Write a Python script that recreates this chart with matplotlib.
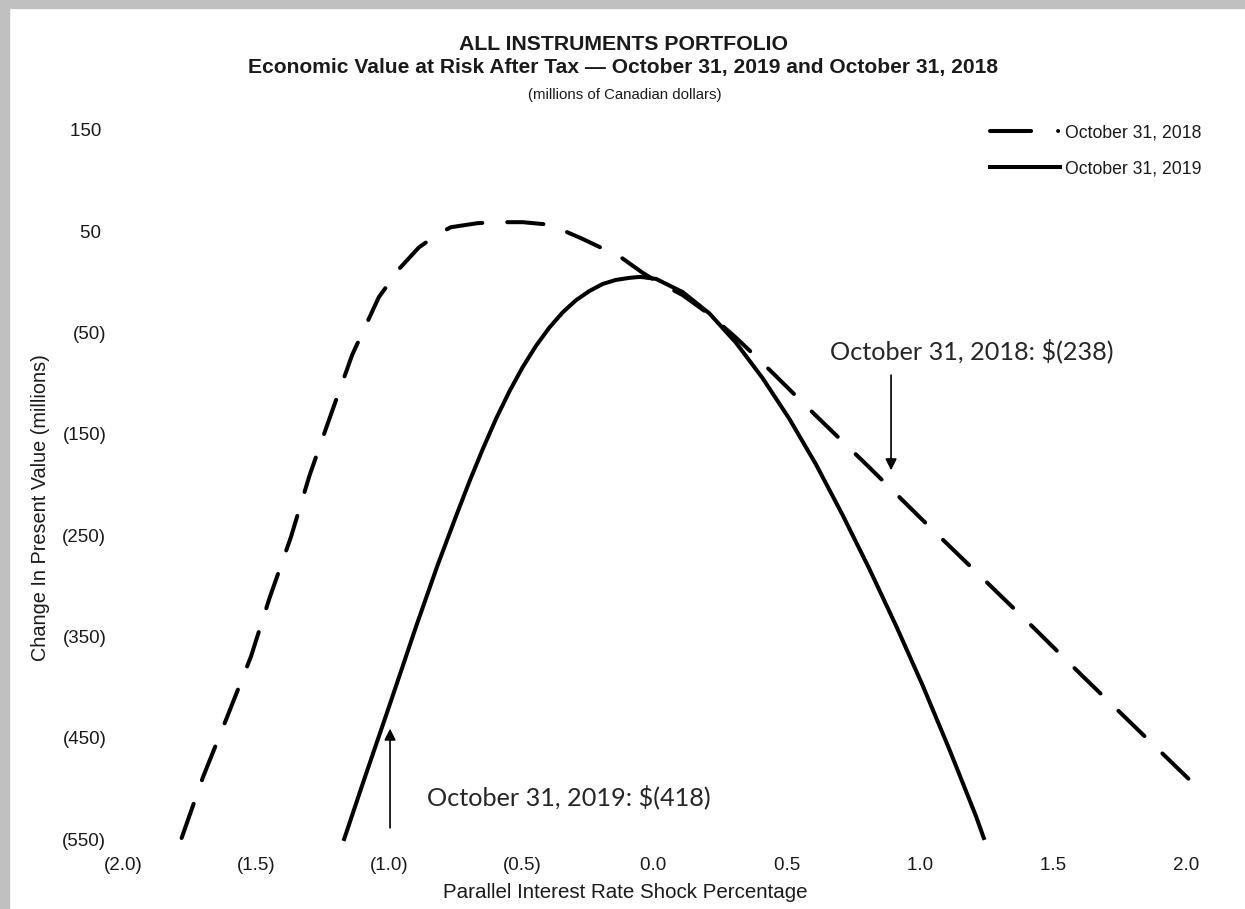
import matplotlib.pyplot as plt
from matplotlib.lines import Line2D
from matplotlib.patches import Rectangle
from matplotlib.ticker import FuncFormatter

# values (shock %, change in PV in $ millions)
shock_2018 = [-1.78, -1.70, -1.61, -1.52, -1.45, -1.37, -1.30, -1.22, -1.14, -1.04,
              -0.96, -0.89, -0.82, -0.77, -0.67, -0.59, -0.50, -0.42, -0.35, -0.28,
              -0.20, -0.13, -0.05, 0.00, 0.10, 0.20, 0.30, 0.40, 0.60, 0.80,
              1.00, 1.20, 1.40, 1.60, 1.80, 2.00]
value_2018 = [-549, -489, -430, -370, -312, -252, -191, -131, -72, -15,
              14, 34, 47, 54, 58, 59, 59, 57, 51, 43,
              33, 24, 9, 1, -13, -32, -55, -80, -132, -183,
              -235, -286, -337, -389, -440, -491]

shock_2019 = [-1.17, -1.10, -1.00, -0.90, -0.82, -0.75, -0.70, -0.65, -0.60, -0.55,
              -0.50, -0.45, -0.40, -0.35, -0.30, -0.25, -0.20, -0.15, -0.10, -0.06,
              0.00, 0.10, 0.20, 0.30, 0.40, 0.50, 0.60, 0.70, 0.80, 0.90,
              1.00, 1.10, 1.20, 1.23]
value_2019 = [-550, -495, -418, -340, -280, -231, -197, -165, -135, -108,
              -84, -63, -45, -30, -18, -9, -2, 2, 4, 5,
              3, -10, -31, -60, -95, -135, -180, -230, -283, -339,
              -398, -461, -527, -549]

x_ticks = [-2.0, -1.5, -1.0, -0.5, 0.0, 0.5, 1.0, 1.5, 2.0]
y_ticks = [150, 50, -50, -150, -250, -350, -450, -550]

labels = ['October 31, 2018', 'October 31, 2019']
note_2018 = 'October 31, 2018: $(238)'
note_2019 = 'October 31, 2019: $(418)'
arrow_2018 = [(0.882, -92), (0.882, -186)]
arrow_2019 = [(-0.998, -539), (-0.998, -441)]

W, H = 1245, 909


def fx(px):
    return px / W


def fy(py):
    return 1 - py / H


plt.rcParams['font.family'] = ['Liberation Sans', 'DejaVu Sans']
txt = '#1a1a1a'

fig = plt.figure(figsize=(W / 100, H / 100), dpi=100)
fig.patch.set_facecolor('white')
# grey frame on the left and top edges
fig.add_artist(Rectangle((0, 0), fx(9), 1, transform=fig.transFigure, color='#c0c0c0', zorder=0))
fig.add_artist(Rectangle((0, fy(8)), 1, 8 / H, transform=fig.transFigure, color='#c0c0c0', zorder=0))

ax = fig.add_axes([fx(123), fy(839), (1189 - 123) / W, (839 - 130) / H])
ax.set_xlim(-2, 2)
ax.set_ylim(-550, 150)
for s in ax.spines.values():
    s.set_visible(False)

ax.plot(shock_2018, value_2018, color='black', lw=2.9, dashes=(9, 6.2),
        dash_capstyle='round', dash_joinstyle='round', clip_on=False)
ax.plot(shock_2019, value_2019, color='black', lw=2.9, solid_joinstyle='round', clip_on=False)

ax.set_xticks(x_ticks)
ax.set_yticks(y_ticks)
ax.xaxis.set_major_formatter(FuncFormatter(lambda v, p: f'({abs(v):.1f})' if v < 0 else f'{v:.1f} '))
ax.yaxis.set_major_formatter(FuncFormatter(lambda v, p: f'({abs(v):.0f})' if v < 0 else f'{v:.0f} '))
ax.tick_params(axis='x', length=0, pad=13, labelsize=13.5, labelcolor=txt)
ax.tick_params(axis='y', length=0, pad=12, labelsize=13.5, labelcolor=txt)

fig.text(fx(623), fy(45), 'ALL INSTRUMENTS PORTFOLIO', ha='center', va='center',
         fontsize=15.3, fontweight='bold', color=txt)
fig.text(fx(623), fy(67), 'Economic Value at Risk After Tax \u2014 October 31, 2019 and October 31, 2018',
         ha='center', va='center', fontsize=15.1, fontweight='bold', color=txt)
fig.text(fx(625), fy(95), '(millions of Canadian dollars)', ha='center', va='center',
         fontsize=10.8, color=txt)
fig.text(fx(41), fy(508), 'Change In Present Value (millions)', rotation=90,
         ha='center', va='center', fontsize=14.3, color=txt)
fig.text(fx(625), fy(893), 'Parallel Interest Rate Shock Percentage', ha='center', va='center',
         fontsize=14.8, color=txt)

# legend keys: the dashed key shows one long dash and a dot, as in the original
h18 = Line2D([], [], color='black', lw=2.9, dashes=(10.2, 6.7, 0.01, 20), dash_capstyle='round')
h19 = Line2D([], [], color='black', lw=2.9)
ax.legend([h18, h19], labels, loc='upper left', bbox_to_anchor=(fx(990), fy(124)),
          bbox_transform=fig.transFigure, frameon=False, fontsize=12.7,
          handlelength=3.95, handletextpad=0.3, borderpad=0, borderaxespad=0,
          labelspacing=1.08, labelcolor=txt)

arrow_style = dict(arrowstyle='-|>', color='black', lw=1.2, mutation_scale=17, shrinkA=0, shrinkB=0)
ax.annotate('', xy=arrow_2018[1], xytext=arrow_2018[0], arrowprops=arrow_style)
ax.annotate('', xy=arrow_2019[1], xytext=arrow_2019[0], arrowprops=arrow_style)
ax.text(0.653, -68, note_2018, fontsize=18.2, family='Lato', color='#262626', va='center', ha='left')
ax.text(-0.859, -508, note_2019, fontsize=18.2, family='Lato', color='#262626', va='center', ha='left')

fig.savefig('out.png', dpi=100, facecolor='white')
